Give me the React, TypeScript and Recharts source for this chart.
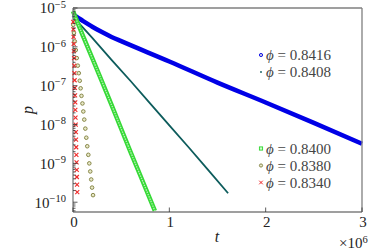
import { ComposedChart, Line, XAxis, YAxis } from "recharts"

const W = 382
const H = 251
const FONT = "'Liberation Serif', 'DejaVu Serif', serif"

// phi = 0.8416 (t in units of 1e6)
const blueT = [0, 0.1, 0.2, 0.3, 0.4, 0.5, 1.0, 1.5, 2.0, 2.5, 3.0]
const blueP = [6.8e-6, 4.7e-6, 3.3e-6, 2.4e-6, 1.8e-6, 1.4e-6, 4.2e-7, 1.2e-7, 3.7e-8, 1.1e-8, 3.2e-9]

// phi = 0.8408
const tealT = [0, 0.2, 0.4, 0.6, 0.8, 1.0, 1.2, 1.4, 1.61]
const tealP = [6.0e-6, 1.7e-6, 4.6e-7, 1.3e-7, 3.5e-8, 9.5e-9, 2.6e-9, 6.9e-10, 1.7e-10]

// phi = 0.8400
const greenT = [0, 0.1, 0.2, 0.3, 0.4, 0.5, 0.6, 0.7, 0.8, 0.85]
const greenP = [8.3e-6, 2.0e-6, 5.1e-7, 1.3e-7, 3.2e-8, 7.8e-9, 1.9e-9, 4.8e-10, 1.2e-10, 6.0e-11]

// phi = 0.8380
const oliveT = [0.003, 0.010, 0.019, 0.029, 0.039, 0.050, 0.060, 0.070, 0.079, 0.088, 0.098,
  0.107, 0.117, 0.128, 0.138, 0.148, 0.159, 0.169, 0.179, 0.189, 0.198, 0.208]
const oliveP = [3.69e-6, 2.29e-6, 1.38e-6, 8.28e-7, 5.14e-7, 3.28e-7, 2.10e-7, 1.34e-7, 8.57e-8,
  5.47e-8, 3.49e-8, 2.17e-8, 1.34e-8, 7.85e-9, 4.58e-9, 2.76e-9, 1.66e-9, 1.0e-9, 6.2e-10,
  3.85e-10, 2.38e-10, 1.52e-10]

// phi = 0.8340
const redT = [0.002, 0.004, 0.006, 0.007, 0.009, 0.011, 0.013, 0.015, 0.017, 0.019, 0.021, 0.023,
  0.024, 0.026, 0.028, 0.030, 0.031, 0.033, 0.035, 0.037, 0.039, 0.040, 0.042, 0.044]
const redP = [4.41e-6, 2.82e-6, 1.80e-6, 1.19e-6, 7.8e-7, 5.14e-7, 3.28e-7, 2.10e-7, 1.38e-7,
  8.83e-8, 5.64e-8, 3.71e-8, 2.37e-8, 1.51e-8, 9.97e-9, 6.37e-9, 4.07e-9, 2.60e-9, 1.66e-9,
  1.06e-9, 6.78e-10, 4.46e-10, 2.85e-10, 1.82e-10]

const xTicks = [0, 1, 2, 3]
const yMajor = [1e-10, 1e-9, 1e-8, 1e-7, 1e-6, 1e-5]
const yMinor = [
  6e-11, 7e-11, 8e-11, 9e-11,
  2e-10, 3e-10, 4e-10, 5e-10, 6e-10, 7e-10, 8e-10, 9e-10,
  2e-9, 3e-9, 4e-9, 5e-9, 6e-9, 7e-9, 8e-9, 9e-9,
  2e-8, 3e-8, 4e-8, 5e-8, 6e-8, 7e-8, 8e-8, 9e-8,
  2e-7, 3e-7, 4e-7, 5e-7, 6e-7, 7e-7, 8e-7, 9e-7,
  2e-6, 3e-6, 4e-6, 5e-6, 6e-6, 7e-6, 8e-6, 9e-6,
]
const yDomain = [5.6e-11, 1e-5]

const upperLegend = ["0.8416", "0.8408"]
const lowerLegend = ["0.8400", "0.8380", "0.8340"]

const toRows = (ts: number[], ps: number[]) => ts.map((t, i) => ({ t, p: ps[i] }))

const blue = toRows(blueT, blueP)
const teal = toRows(tealT, tealP)
const green = toRows(greenT, greenP)
const olive = toRows(oliveT, oliveP)
const red = toRows(redT, redP)

const isMajor = (v: number) => Math.abs(Math.log10(v) - Math.round(Math.log10(v))) < 1e-6

const TICK = "#333"

const LeftTick = (props: any) => {
  const { x, y, payload } = props
  const v = payload.value
  const major = isMajor(v)
  const e = Math.round(Math.log10(v))
  return (
    <g>
      <line x1={x} x2={x + (major ? 4.5 : 2.5)} y1={y} y2={y} stroke={TICK} strokeWidth={0.8} />
      {major && (
        <text x={x - 7} y={y + 5.3} textAnchor="end" fontFamily={FONT} fontSize={15} fill="#222">
          <tspan>10</tspan>
          <tspan dy={-5.5} fontSize={10.5}>{"\u2212" + -e}</tspan>
        </text>
      )}
    </g>
  )
}

const RightTick = (props: any) => {
  const { x, y, payload } = props
  const major = isMajor(payload.value)
  return <line x1={x} x2={x - (major ? 4.5 : 2.5)} y1={y} y2={y} stroke={TICK} strokeWidth={0.8} />
}

const BottomTick = (props: any) => {
  const { x, y, payload } = props
  return (
    <g>
      <line x1={x} x2={x} y1={y} y2={y - 4.5} stroke={TICK} strokeWidth={0.8} />
      <text x={x + 1} y={227} textAnchor="middle" fontFamily={FONT} fontSize={15} fill="#222">
        {payload.value}
      </text>
    </g>
  )
}

const TopTick = (props: any) => {
  const { x, y } = props
  return <line x1={x} x2={x} y1={y} y2={y + 4.5} stroke={TICK} strokeWidth={0.8} />
}

const OliveDot = (props: any) => {
  const { cx, cy } = props
  if (cx == null || cy == null) return null
  return <circle cx={cx} cy={cy} r={1.8} fill="#e8e8c8" stroke="#7d7d3a" strokeWidth={0.9} />
}

const RedDot = (props: any) => {
  const { cx, cy } = props
  if (cx == null || cy == null) return null
  const s = 2
  return (
    <g stroke="#f02828" strokeWidth={1.1}>
      <line x1={cx - s} y1={cy - s} x2={cx + s} y2={cy + s} />
      <line x1={cx - s} y1={cy + s} x2={cx + s} y2={cy - s} />
    </g>
  )
}

const LegendRow = ({ y, label, marker }: { y: number; label: string; marker: React.ReactNode }) => (
  <g>
    <g transform={`translate(261, ${y})`}>{marker}</g>
    <text x={266} y={y + 5} fontFamily={FONT} fontSize={15} fill="#444">
      <tspan fontStyle="italic">{"\u03D5"}</tspan>
      <tspan>{" = " + label}</tspan>
    </text>
  </g>
)

const markers = {
  blue: <circle r={1.6} fill="#ccd" stroke="#0000e6" strokeWidth={0.9} />,
  teal: <circle r={0.9} fill="#0d5c5c" />,
  green: <rect x={-1.6} y={-1.6} width={3.2} height={3.2} fill="#cfc" stroke="#2fd62f" strokeWidth={0.9} />,
  olive: <circle r={1.6} fill="#e8e8c8" stroke="#7d7d3a" strokeWidth={0.9} />,
  red: (
    <g stroke="#f02828" strokeWidth={1}>
      <line x1={-1.8} y1={-1.8} x2={1.8} y2={1.8} />
      <line x1={-1.8} y1={1.8} x2={1.8} y2={-1.8} />
    </g>
  ),
}

export default function App() {
  return (
    <div style={{ position: "absolute", left: 0, top: 0, width: W, height: H, background: "#fff" }}>
      <ComposedChart width={W} height={H} margin={{ top: 0, right: 0, bottom: 0, left: 0 }}>
        <XAxis
          xAxisId="b"
          dataKey="t"
          type="number"
          domain={[0, 3]}
          ticks={xTicks}
          interval={0}
          height={39}
          tickSize={0}
          tickMargin={0}
          tickLine={false}
          tick={<BottomTick />}
          axisLine={{ stroke: "#7f7f7f", strokeWidth: 1.3 }}
        />
        <XAxis
          xAxisId="top"
          orientation="top"
          type="number"
          domain={[0, 3]}
          ticks={xTicks}
          interval={0}
          height={8}
          tickSize={0}
          tickMargin={0}
          tickLine={false}
          tick={<TopTick />}
          axisLine={{ stroke: "#7f7f7f", strokeWidth: 1.3 }}
        />
        <YAxis
          yAxisId="l"
          scale="log"
          type="number"
          domain={yDomain}
          ticks={[...yMinor, ...yMajor]}
          interval={0}
          width={73}
          tickSize={0}
          tickMargin={0}
          tickLine={false}
          tick={<LeftTick />}
          axisLine={{ stroke: "#7f7f7f", strokeWidth: 1.3 }}
        />
        <YAxis
          yAxisId="r"
          orientation="right"
          scale="log"
          type="number"
          domain={yDomain}
          ticks={[...yMinor, ...yMajor]}
          interval={0}
          width={20}
          tickSize={0}
          tickMargin={0}
          tickLine={false}
          tick={<RightTick />}
          axisLine={{ stroke: "#7f7f7f", strokeWidth: 1.3 }}
        />
        <Line xAxisId="b" yAxisId="l" data={blue} dataKey="p" type="monotone" stroke="#0000e6" strokeWidth={4.5} dot={false} isAnimationActive={false} />
        <Line xAxisId="b" yAxisId="l" data={teal} dataKey="p" type="linear" stroke="#0d5c5c" strokeWidth={1.8} dot={false} isAnimationActive={false} />
        <Line xAxisId="b" yAxisId="l" data={green} dataKey="p" type="linear" stroke="#36d936" strokeWidth={4.5} dot={false} isAnimationActive={false} />
        <Line xAxisId="b" yAxisId="l" data={green} dataKey="p" type="linear" stroke="#b4f4b4" strokeWidth={1.3} strokeDasharray="1.5 1" dot={false} isAnimationActive={false} />
        <Line xAxisId="b" yAxisId="l" data={olive} dataKey="p" stroke="none" dot={<OliveDot />} isAnimationActive={false} />
        <Line xAxisId="b" yAxisId="l" data={red} dataKey="p" stroke="none" dot={<RedDot />} isAnimationActive={false} />
      </ComposedChart>
      <svg width={W} height={H} style={{ position: "absolute", left: 0, top: 0, pointerEvents: "none" }}>
        <text transform="translate(33, 110) rotate(-90)" textAnchor="middle" fontFamily={FONT} fontStyle="italic" fontSize={16} fill="#222">p</text>
        <text x={217} y={242} textAnchor="middle" fontFamily={FONT} fontStyle="italic" fontSize={16} fill="#222">t</text>
        <text x={339} y={248} fontFamily={FONT} fontSize={15} fill="#222">
          <tspan>{"\u00D710"}</tspan>
          <tspan dy={-5.5} fontSize={10.5}>6</tspan>
        </text>
        <LegendRow y={55} label={upperLegend[0]} marker={markers.blue} />
        <LegendRow y={72} label={upperLegend[1]} marker={markers.teal} />
        <LegendRow y={148.5} label={lowerLegend[0]} marker={markers.green} />
        <LegendRow y={165.5} label={lowerLegend[1]} marker={markers.olive} />
        <LegendRow y={182.5} label={lowerLegend[2]} marker={markers.red} />
      </svg>
    </div>
  )
}
